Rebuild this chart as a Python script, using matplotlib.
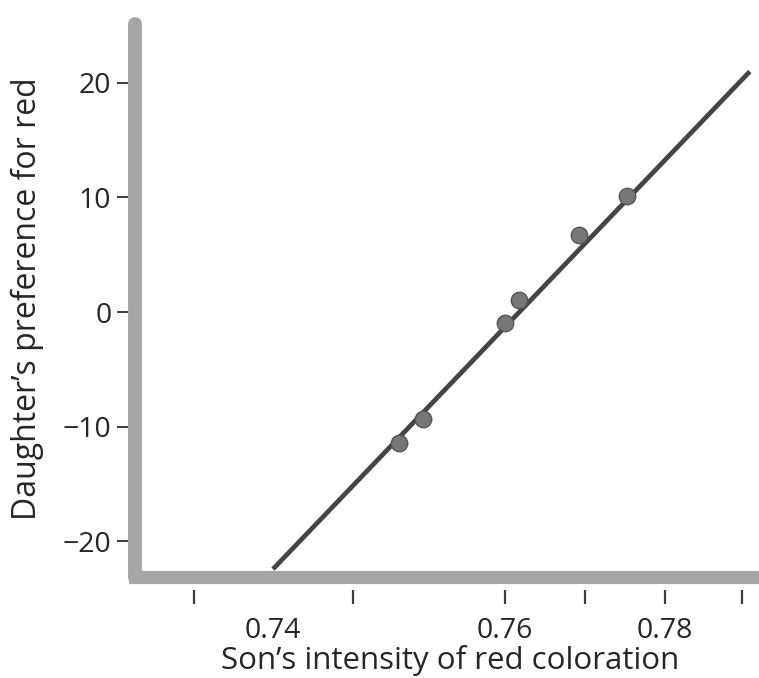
import matplotlib
matplotlib.use("Agg")
import matplotlib.pyplot as plt

# Offspring measurements: son's red intensity vs. daughter's preference
son_red = [0.7467, 0.7497, 0.7600, 0.7617, 0.7692, 0.7752]
daughter_pref = [-11.4, -9.3, -1.0, 1.05, 6.7, 10.1]

# Regression line end points
fit_x = [0.731, 0.7906]
fit_y = [-22.45, 21.0]

# Axis ticks
y_ticks = [-20, -10, 0, 10, 20]
x_label_pos = [0.731, 0.76, 0.78]
x_label_text = ["0.74", "0.76", "0.78"]
x_tick_marks = [0.7211, 0.741, 0.760, 0.770, 0.780, 0.7896]

plt.rcParams['font.family'] = ['Open Sans', 'DejaVu Sans']

W, H = 759, 678
fig = plt.figure(figsize=(W / 100, H / 100), dpi=100)
ax = fig.add_axes([135 / W, 101 / H, (W - 135) / W, (577 - 24) / H])
ax.set_xlim(0.71375, 0.79175)
ax.set_ylim(-23.14, 25.15)

spine_col = '#a6a6a6'
ink = '#3c3c3c'
text_col = '#262626'

ax.plot(fit_x, fit_y, color='#454545', lw=3.4, solid_capstyle='butt', zorder=2)
ax.scatter(son_red, daughter_pref, s=140, color='#777777', edgecolor='#555555',
           linewidth=1.0, zorder=3)

for side in ('top', 'right'):
    ax.spines[side].set_visible(False)
ax.spines['left'].set_linewidth(10)
ax.spines['left'].set_color(spine_col)
ax.spines['left'].set_capstyle('round')
ax.spines['bottom'].set_linewidth(9.5)
ax.spines['bottom'].set_color(spine_col)
ax.spines['bottom'].set_capstyle('projecting')
ax.spines['left'].set_zorder(5)
ax.spines['bottom'].set_zorder(6)

ax.set_yticks(y_ticks)
ax.set_yticklabels([f"{v:d}".replace('-', '\u2212') for v in y_ticks])
ax.tick_params(axis='y', length=13, width=1.4, color=ink, pad=4,
               labelsize=20.5, labelcolor=text_col)

ax.set_xticks(x_label_pos)
ax.set_xticklabels(x_label_text)
ax.tick_params(axis='x', length=0, pad=29, labelsize=20.5, labelcolor=text_col)

# Tick marks below the bottom axis, set apart from the bar
ax.vlines(x_tick_marks, -0.0235, -0.0488, transform=ax.get_xaxis_transform(),
          clip_on=False, color=ink, lw=1.6)

fig.text(450 / W, 1 - 660 / H, "Son\u2019s intensity of red coloration",
         ha='center', va='center', fontsize=22.5, color=text_col)
fig.text(27 / W, 1 - 299 / H, "Daughter\u2019s preference for red",
         ha='center', va='center', rotation=90, fontsize=23, color=text_col)

fig.savefig("out.png", dpi=100)
